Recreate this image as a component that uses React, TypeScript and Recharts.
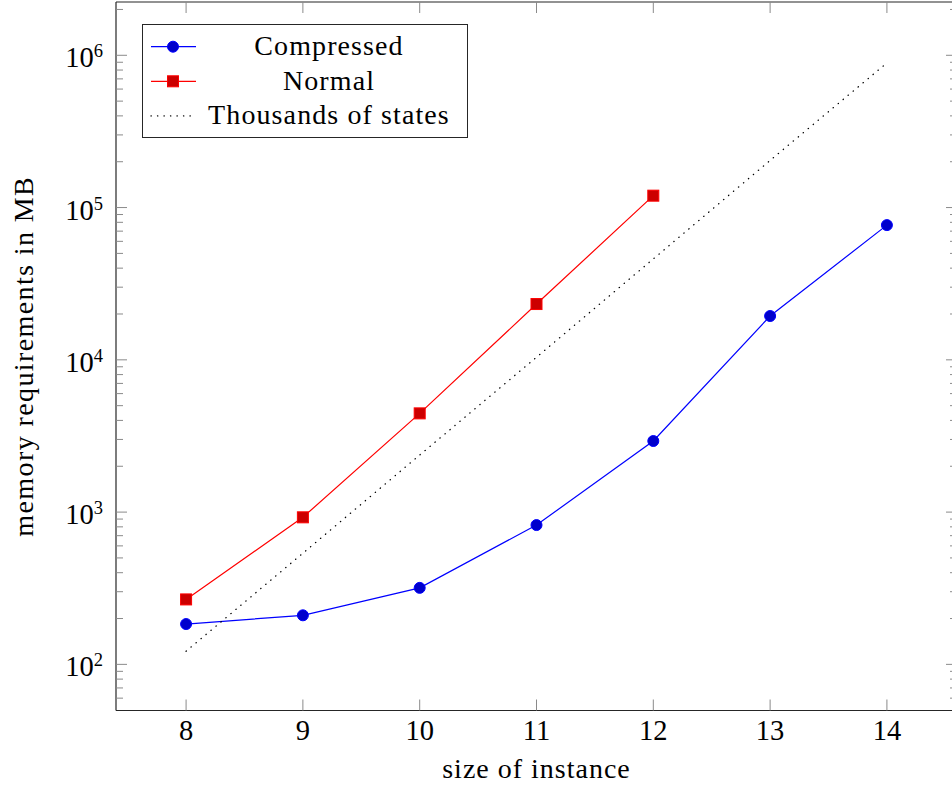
import React from 'react';
import { LineChart, Line, XAxis, YAxis } from 'recharts';

// values (memory in MB, log scale)
const sizes = [8, 9, 10, 11, 12, 13, 14];
const compressed = [184, 210, 318, 822, 2930, 19400, 76700];
const normal = [267, 924, 4450, 23250, 119700, null, null];
const thousandsOfStates = [122, 537, 2370, 10400, 46000, 204000, 891000];

const xTicks = [8, 9, 10, 11, 12, 13, 14];
const yMajorTicks = [1e2, 1e3, 1e4, 1e5, 1e6];
const yMinorTicks = [
  60, 70, 80, 90,
  200, 300, 400, 500, 600, 700, 800, 900,
  2000, 3000, 4000, 5000, 6000, 7000, 8000, 9000,
  20000, 30000, 40000, 50000, 60000, 70000, 80000, 90000,
  200000, 300000, 400000, 500000, 600000, 700000, 800000, 900000,
  2000000,
];
const yAllTicks = [...yMajorTicks, ...yMinorTicks].sort((a, b) => a - b);

const data = sizes.map((s, i) => ({
  size: s,
  compressed: compressed[i],
  normal: normal[i],
  states: thousandsOfStates[i],
}));

const FONT = 'Liberation Serif, DejaVu Serif, serif';
const TXT = { fontFamily: FONT };
const TICK = '#8a8a8a';
const AXIS = '#262626';
const X_DOMAIN = [7.4, 14.6];
const Y_DOMAIN = [Math.pow(10, 1.697), Math.pow(10, 6.35)];

const isMajor = (v: number) => yMajorTicks.includes(v);

const YLeftTick = ({ x, y, payload }: any) => {
  if (!isMajor(payload.value)) {
    return <line x1={x} y1={y} x2={x + 7} y2={y} stroke={TICK} />;
  }
  const exp = Math.round(Math.log10(payload.value));
  return (
    <g>
      <line x1={x} y1={y} x2={x + 11} y2={y} stroke={TICK} />
      <text x={x - 13} y={y + 12} textAnchor="end" style={TXT} fontSize={28.5} fill="#000">
        10<tspan dy={-10} fontSize={18.5}>{exp}</tspan>
      </text>
    </g>
  );
};
const YRightTick = ({ x, y, payload }: any) => {
  const len = isMajor(payload.value) ? 11 : 7;
  return <line x1={x} y1={y} x2={x - len} y2={y} stroke={TICK} />;
};

const XBottom = ({ x, y, payload }: any) => (
  <g>
    <line x1={x} y1={y} x2={x} y2={y - 11} stroke={TICK} />
    <text x={x} y={y + 29.5} textAnchor="middle" style={TXT} fontSize={28.5} fill="#000">
      {payload.value}
    </text>
  </g>
);
const XTop = ({ x, y }: any) => <line x1={x} y1={y} x2={x} y2={y + 11} stroke={TICK} />;

const XTitle = (props: any) => {
  const vb = props.viewBox;
  return (
    <text x={vb.x + vb.width / 2} y={vb.y + 67.5} textAnchor="middle" style={TXT}
      fontSize={28} letterSpacing={1} fill="#000">
      size of instance
    </text>
  );
};
const YTitle = (props: any) => {
  const vb = props.viewBox;
  const cx = vb.x - 82;
  const cy = vb.y + vb.height / 2;
  return (
    <text x={cx} y={cy} transform={`rotate(-90, ${cx}, ${cy})`} textAnchor="middle"
      style={TXT} fontSize={28} letterSpacing={1.4} fill="#000">
      memory requirements in MB
    </text>
  );
};

const circleDot = (p: any) => {
  if (p.cx == null || p.cy == null || p.value == null) return <g key={p.index} />;
  return <circle key={p.index} cx={p.cx} cy={p.cy} r={5.5} fill="#0000cc" stroke="#0000ff" strokeWidth={1} />;
};
const squareDot = (p: any) => {
  if (p.cx == null || p.cy == null || p.value == null) return <g key={p.index} />;
  return <rect key={p.index} x={p.cx - 5.5} y={p.cy - 5.5} width={11} height={11} fill="#cc0000" stroke="#ff0000" strokeWidth={1} />;
};

const legendItems = [
  { name: 'Compressed', kind: 'circle' },
  { name: 'Normal', kind: 'square' },
  { name: 'Thousands of states', kind: 'dotted' },
];

const LegendBox = () => (
  <div style={{
    position: 'absolute', left: 142, top: 24, width: 326, height: 114,
    border: `1px solid ${AXIS}`, boxSizing: 'border-box', background: '#fff',
  }}>
    <svg width={326} height={114} style={{ position: 'absolute', left: -1, top: -1 }}>
      {legendItems.map((it, i) => {
        const cy = 22.7 + i * 34.6;
        return (
          <g key={it.name}>
            {it.kind === 'dotted' ? (
              <line x1={9} y1={cy} x2={54} y2={cy} stroke="#000" strokeWidth={1.3}
                strokeDasharray="0.3 6.2" strokeLinecap="round" />
            ) : (
              <line x1={9} y1={cy} x2={54} y2={cy} stroke={it.kind === 'circle' ? '#0000ff' : '#ff0000'} strokeWidth={1.2} />
            )}
            {it.kind === 'circle' && <circle cx={31} cy={cy} r={5.5} fill="#0000cc" stroke="#0000ff" />}
            {it.kind === 'square' && <rect x={25.5} y={cy - 5.5} width={11} height={11} fill="#cc0000" stroke="#ff0000" />}
            <text x={187} y={cy + 8.5} textAnchor="middle" style={TXT} fontSize={28}
              letterSpacing={1.1} fill="#000">
              {it.name}
            </text>
          </g>
        );
      })}
    </svg>
  </div>
);

export default function App() {
  return (
    <div style={{ position: 'absolute', left: 0, top: 0, width: 952, height: 787, overflow: 'hidden', background: '#fff' }}>
      <LineChart width={1000} height={787} data={data}
        margin={{ top: 1, left: 115, right: 42, bottom: 75.5 }}>
        <XAxis xAxisId="bottom" dataKey="size" type="number" domain={X_DOMAIN} allowDataOverflow
          ticks={xTicks} interval={0} height={1} tickSize={0} tickMargin={0} tickLine={false}
          axisLine={{ stroke: AXIS, strokeWidth: 1.2 }} tick={<XBottom />} label={XTitle} />
        <XAxis xAxisId="top" orientation="top" dataKey="size" type="number" domain={X_DOMAIN} allowDataOverflow
          ticks={xTicks} interval={0} height={1} tickSize={0} tickMargin={0} tickLine={false}
          axisLine={{ stroke: AXIS, strokeWidth: 1.2 }} tick={<XTop />} />
        <YAxis yAxisId="left" scale="log" type="number" domain={Y_DOMAIN} allowDataOverflow
          ticks={yAllTicks} interval={0} width={1} tickSize={0} tickMargin={0} tickLine={false}
          axisLine={{ stroke: AXIS, strokeWidth: 1.2 }} tick={<YLeftTick />} label={YTitle} />
        <YAxis yAxisId="right" orientation="right" scale="log" type="number" domain={Y_DOMAIN} allowDataOverflow
          ticks={yAllTicks} interval={0} width={1} tickSize={0} tickMargin={0} tickLine={false}
          axisLine={{ stroke: AXIS, strokeWidth: 1.2 }} tick={<YRightTick />} />
        <Line xAxisId="bottom" yAxisId="left" type="linear" dataKey="compressed" stroke="#0000ff"
          strokeWidth={1.2} dot={circleDot} activeDot={false} isAnimationActive={false} />
        <Line xAxisId="bottom" yAxisId="left" type="linear" dataKey="normal" stroke="#ff0000"
          strokeWidth={1.2} dot={squareDot} activeDot={false} isAnimationActive={false} />
        <Line xAxisId="bottom" yAxisId="left" type="linear" dataKey="states" stroke="#000"
          strokeWidth={1.3} strokeDasharray="0.3 6.2" strokeLinecap="round" dot={false}
          activeDot={false} isAnimationActive={false} />
      </LineChart>
      <LegendBox />
    </div>
  );
}
